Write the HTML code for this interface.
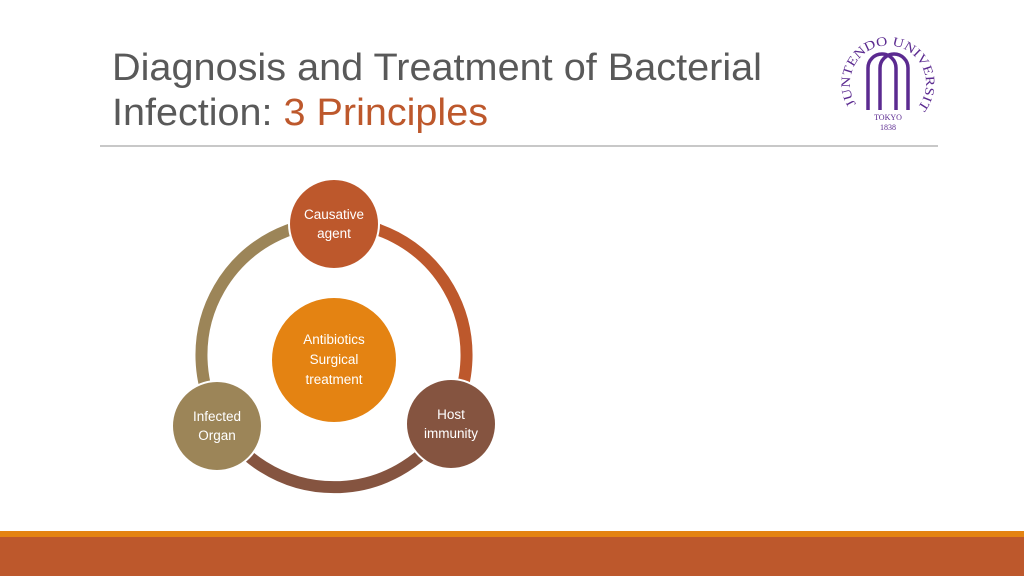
<!DOCTYPE html>
<html><head><meta charset="utf-8"><style>
html,body{margin:0;padding:0;background:#fff;}
svg{display:block;}
</style></head><body>
<svg width="1024" height="576" viewBox="0 0 1024 576" xmlns="http://www.w3.org/2000/svg" font-family="Liberation Sans, sans-serif">
<rect width="1024" height="576" fill="#fff"/>
<text x="112" y="80" font-size="38" fill="#595959" textLength="650" lengthAdjust="spacingAndGlyphs">Diagnosis and Treatment of Bacterial</text>
<text x="112" y="125" font-size="38" fill="#595959" textLength="376" lengthAdjust="spacingAndGlyphs">Infection: <tspan fill="#BD582C">3 Principles</tspan></text>
<line x1="100" y1="146" x2="938" y2="146" stroke="#a6a6a6" stroke-width="1.2"/>
<!-- logo -->
<defs><path id="lp" d="M856,104 A38,38 0 1,1 920,104"/></defs>
<g fill="none" stroke="#5B2A90" stroke-width="3.5">
<path d="M868,110 V68 A14,14 0 0,1 896,68 V110"/>
<path d="M880,110 V68 A14,14 0 0,1 908,68 V110"/>
</g>
<g fill="#5B2A90" font-family="Liberation Serif, serif">
<text font-size="13"><textPath href="#lp" textLength="178" lengthAdjust="spacingAndGlyphs">JUNTENDO UNIVERSITY</textPath></text>
<text x="888" y="120" font-size="8" text-anchor="middle">TOKYO</text>
<text x="888" y="130" font-size="8" text-anchor="middle">1838</text>
</g>
<!-- ring arcs -->
<g fill="none" stroke-width="12">
<path d="M334,222 A133,133 0 0,1 449,421" stroke="#BD582C"/>
<path d="M449,421 A133,133 0 0,1 219,421" stroke="#855440"/>
<path d="M219,421 A133,133 0 0,1 334,222" stroke="#9C8558"/>
</g>
<g stroke="#fff" stroke-width="2">
<circle cx="334" cy="224" r="45" fill="#BD582C"/>
<circle cx="451" cy="424" r="45" fill="#855440"/>
<circle cx="217" cy="426" r="45" fill="#9C8558"/>
<circle cx="334" cy="360" r="63" fill="#E48312"/>
</g>
<g fill="#fff" font-size="13.5" text-anchor="middle">
<text x="334" y="219">Causative</text><text x="334" y="238">agent</text>
<text x="451" y="419">Host</text><text x="451" y="438">immunity</text>
<text x="217" y="421">Infected</text><text x="217" y="440">Organ</text>
<text x="334" y="344">Antibiotics</text><text x="334" y="364">Surgical</text><text x="334" y="384">treatment</text>
</g>
<rect x="0" y="531" width="1024" height="6" fill="#E48312"/>
<rect x="0" y="537" width="1024" height="39" fill="#BD582C"/>
</svg>
</body></html>
